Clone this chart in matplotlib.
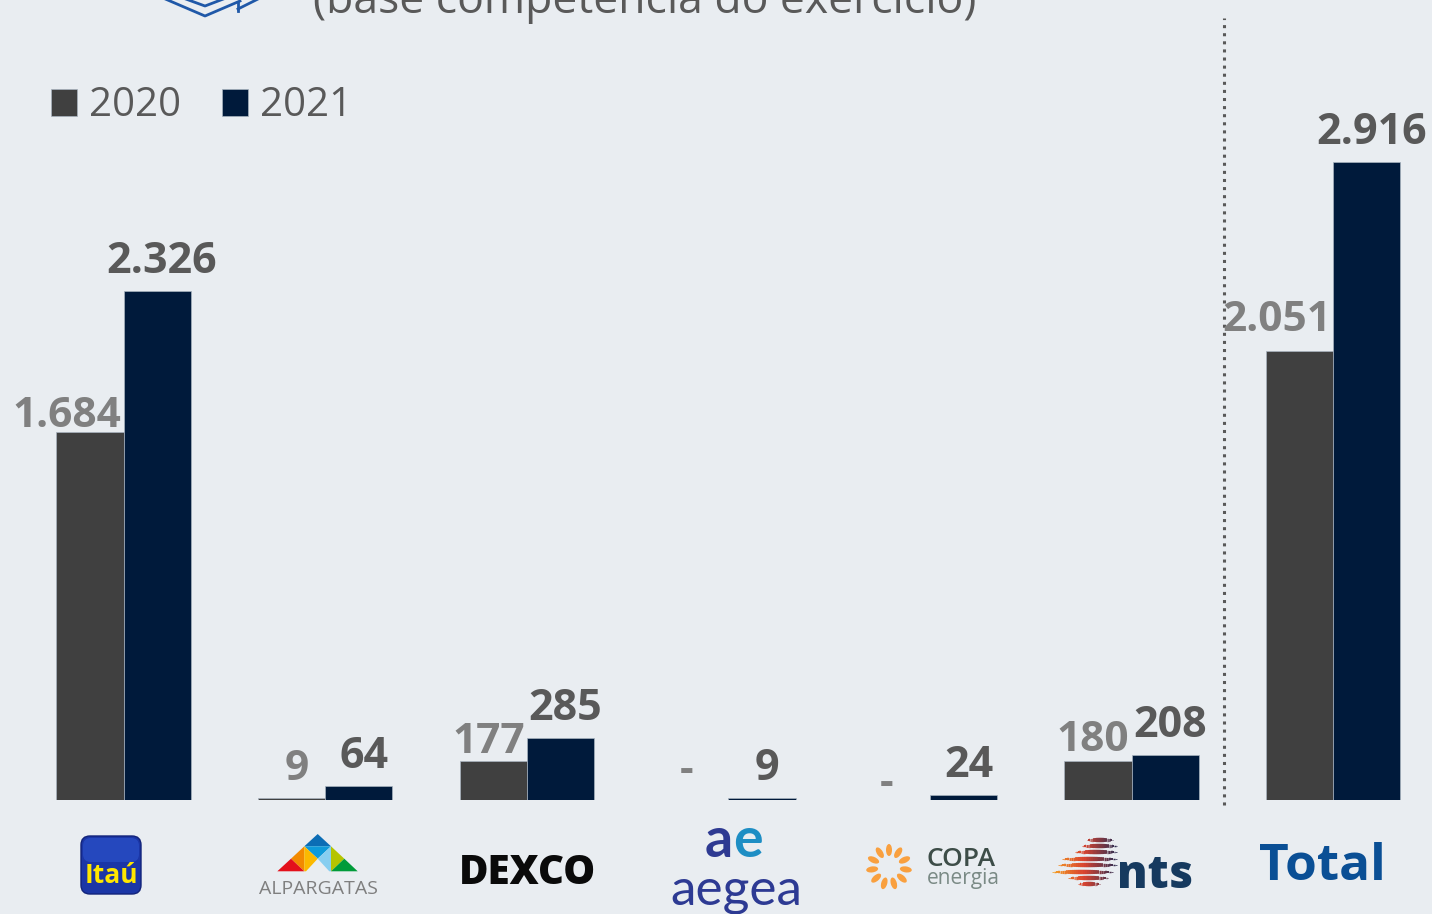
import matplotlib
matplotlib.use('Agg')
import matplotlib.pyplot as plt
import numpy as np
from matplotlib.transforms import Affine2D
from matplotlib.patches import Polygon, FancyBboxPatch, Ellipse
from matplotlib.collections import LineCollection
from matplotlib.colors import LinearSegmentedColormap

plt.rcParams.update({
    'font.family': ['Open Sans', 'DejaVu Sans'],
})

# Data
companies = ['Itaú', 'Alpargatas', 'Dexco', 'Aegea', 'Copa Energia', 'NTS', 'Total']
v2020 = [1684, 9, 177, None, None, 180, 2051]
v2021 = [2326, 64, 285, 9, 24, 208, 2916]
series_names = ['2020', '2021']

BG = '#E9EDF1'
C20 = '#404040'
C21 = '#001A3B'
W, H = 1432, 914
PX_PER_UNIT = 0.2187  # pixel height per value unit

fig = plt.figure(figsize=(W / 100, H / 100), dpi=100)
fig.patch.set_facecolor(BG)
ax = fig.add_axes([0, 114 / H, 1, 800 / H])
ax.set_facecolor(BG)
ax.set_xlim(-0.6126, (W - 123.5) / 201.6)
ax.set_ylim(0, 800 / PX_PER_UNIT)
ax.axis('off')

# pixel coordinates, origin top-left
pix = Affine2D().scale(1 / W, -1 / H).translate(0, 1) + fig.transFigure


def fmt(v):
    return '-' if v is None else f'{v:,}'.replace(',', '.')


x = np.arange(len(companies))
bw = 1 / 3
h20 = [np.nan if v is None else v for v in v2020]
ax.bar(x - bw / 2, h20, bw, color=C20, edgecolor='#A9B4C0', linewidth=0.5,
       label=series_names[0])
ax.bar(x + bw / 2, v2021, bw, color=C21, edgecolor='#A9B4C0', linewidth=0.5,
       label=series_names[1])

# value labels
px2pt = 0.72
off20 = [5, 18, 8, 18, 5, 10, 20]   # px gap above 2020 bars
dx20 = [0, 5, 0, -8, -10, 0, 0]     # px shift for short 2020 labels
for i, (a, b) in enumerate(zip(v2020, v2021)):
    s = fmt(a)
    ya = 0 if a is None else a
    if len(s) > 1:
        ax.annotate(s, (x[i], ya), xytext=(-2 * px2pt, off20[i] * px2pt),
                    textcoords='offset points', ha='right', va='baseline',
                    fontsize=30.5, fontweight='bold', color='#808080')
    else:
        ax.annotate(s, (x[i] - bw / 2, ya), xytext=(dx20[i] * px2pt, off20[i] * px2pt),
                    textcoords='offset points', ha='center', va='baseline',
                    fontsize=30.5, fontweight='bold', color='#808080')
    ax.annotate(fmt(b), (x[i] + bw / 2, b), xytext=(5 * px2pt, 18 * px2pt),
                textcoords='offset points', ha='center', va='baseline',
                fontsize=31, fontweight='bold', color='#595959')

# separator before Total
sep_x = 5.457
ax.plot([sep_x, sep_x], [-5 / PX_PER_UNIT, 782 / PX_PER_UNIT], color='#595959',
        linestyle=':', linewidth=2.2, clip_on=False)

# legend
fig.legend(loc='center left', bbox_to_anchor=(51 / W, 1 - 106 / H),
           ncol=2, frameon=False, fontsize=29, handlelength=0.65,
           handleheight=0.65, handletextpad=0.3, columnspacing=1.0,
           borderpad=0, borderaxespad=0, labelcolor='#595959')

# cut-off title and icon at the top
fig.text(313, 13, '(base competência do exercício)', transform=pix,
         fontsize=32, color='#595959', ha='left', va='baseline')
for pts in [[(163, -2), (205, 16), (240, 1)],
            [(183, -2), (205, 6), (226, -2)],
            [(238, 11), (238, 2)],
            [(238, 9), (258, -1)]]:
    xs, ys = zip(*pts)
    fig.add_artist(plt.Line2D(xs, ys, transform=pix, color='#1F58A8', lw=2.0))

# --- category logos ---
# Itaú
fig.add_artist(FancyBboxPatch((81, 836), 60, 58, boxstyle='round,pad=0,rounding_size=9',
                              transform=pix, facecolor='#1B36A6', edgecolor='#12237A', lw=1))
fig.add_artist(FancyBboxPatch((83, 838), 56, 24, boxstyle='round,pad=0,rounding_size=8',
                              transform=pix, facecolor='#2D55CF', edgecolor='none', alpha=0.6))
fig.text(111, 883, 'Itaú', transform=pix, fontsize=19, fontweight='bold',
         color='#FFE600', ha='center', va='baseline')

# Alpargatas
tri = [
    ('#0B6DB5', [(317.7, 834), (304.3, 846.3), (331, 846.3)]),
    ('#0E9AD9', [(304.3, 846.3), (331, 846.3), (317.7, 858.7)]),
    ('#F28A00', [(304.3, 846.3), (291, 858.7), (304.3, 871.3)]),
    ('#E3101B', [(291, 858.7), (277.3, 871.3), (304.3, 871.3)]),
    ('#FBB900', [(304.3, 846.3), (317.7, 858.7), (306, 871.3), (304.3, 871.3)]),
    ('#87CEF0', [(331, 846.3), (317.7, 858.7), (329.3, 871.3), (331, 871.3)]),
    ('#B5C400', [(331, 846.3), (344.3, 858.7), (331, 871.3)]),
    ('#009B3A', [(344.3, 858.7), (331, 871.3), (357.7, 871.3)]),
]
for col, pts in tri:
    fig.add_artist(Polygon(pts, closed=True, transform=pix, facecolor=col, edgecolor='none'))
fig.text(318, 894, 'ALPARGATAS', transform=pix, fontsize=14, color='#7F7F7F',
         ha='center', va='baseline')

# Dexco
fig.text(527, 884, 'DEXCO', transform=pix, fontsize=29, fontweight='heavy',
         color='#0A0A0A', ha='center', va='baseline')

# Aegea
fig.text(733, 857, 'a', transform=pix, fontsize=40, fontweight='bold',
         color='#2E3A92', ha='right', va='baseline', family='Lato')
fig.text(733, 857, 'e', transform=pix, fontsize=40, fontweight='bold',
         color='#1E8EC4', ha='left', va='baseline', family='Lato')
fig.text(736, 905, 'aegea', transform=pix, fontsize=37, color='#2D3A93',
         ha='center', va='baseline', family='Lato')

# Copa Energia
for k in range(11):
    ang = np.deg2rad(90 + k * 360 / 11)
    r = 17
    cx, cy = 889 + r * np.cos(ang), 867 - r * np.sin(ang)
    fig.add_artist(Ellipse((cx, cy), 12, 6, angle=-np.rad2deg(ang), transform=pix,
                           facecolor='#F9A03F', edgecolor='none'))
fig.text(926, 866, 'COPA', transform=pix, fontsize=19, fontweight='semibold',
         color='#3D4D48', ha='left', va='baseline')
fig.text(927, 884, 'energia', transform=pix, fontsize=15, color='#7A8A85',
         ha='left', va='baseline')

# NTS
cmap = LinearSegmentedColormap.from_list('nts', ['#F7A823', '#D9432F', '#2B2E54'])
stripes = [(840, 1086.7, 1113.3), (845.7, 1081.7, 1116.7), (852.3, 1075, 1116.7),
           (859, 1061.7, 1116.7), (865, 1058.3, 1116.7), (871.7, 1051.7, 1113.3),
           (878.3, 1068.3, 1108.3), (884, 1078.3, 1100)]
segs, lws, cols = [], [], []
for yy, x0, x1 in stripes:
    xs = np.linspace(x0, x1, 31)
    for j in range(30):
        t = (j + 0.5) / 30
        segs.append([(xs[j], yy), (xs[j + 1], yy)])
        lws.append(4.5 * px2pt * np.sin(np.pi * t) ** 0.6)
        cols.append(cmap(np.clip(((xs[j] + xs[j + 1]) / 2 - 1050) / 67, 0, 1)))
fig.add_artist(LineCollection(segs, linewidths=lws, colors=cols, transform=pix,
                              capstyle='butt'))
fig.text(1155, 888, 'nts', transform=pix, fontsize=33, fontweight='heavy',
         color='#163A5F', ha='center', va='baseline')

# Total
fig.text(1322, 880, 'Total', transform=pix, fontsize=37, fontweight='bold',
         color='#0A4F95', ha='center', va='baseline')

fig.savefig('out.png', dpi=100, facecolor=BG)
